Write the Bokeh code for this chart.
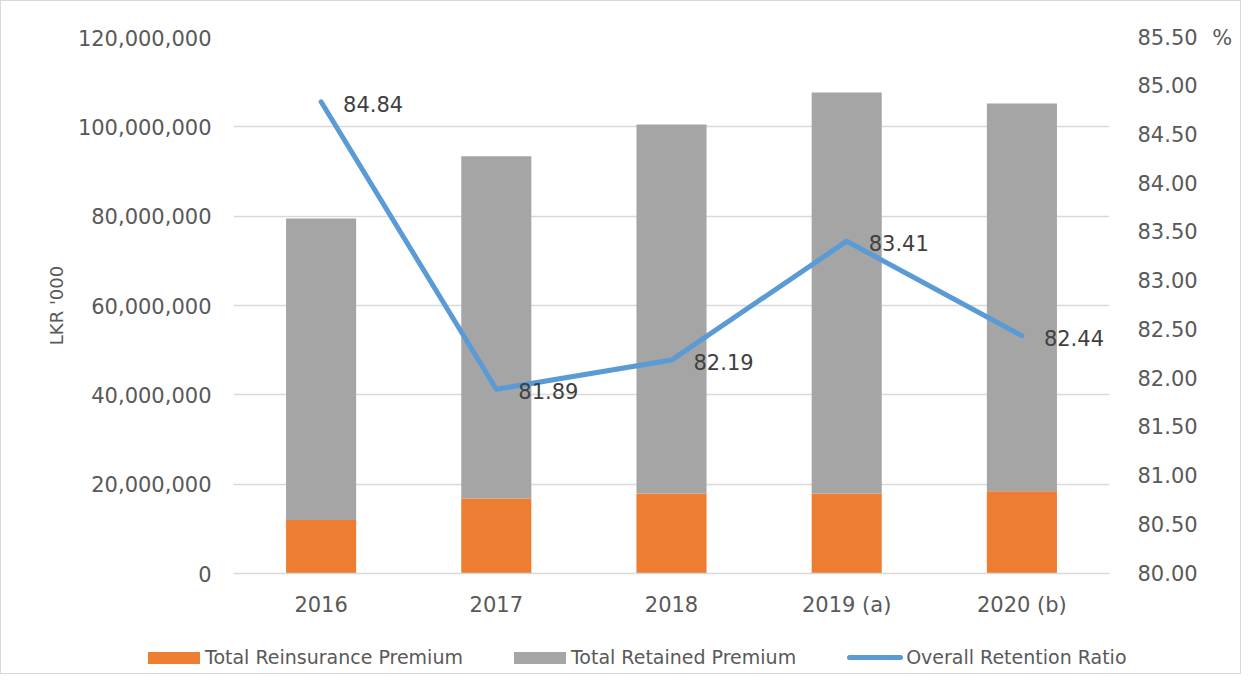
from bokeh.plotting import figure
from bokeh.layouts import column
from bokeh.models import (ColumnDataSource, Range1d, LinearAxis, FixedTicker,
                          NumeralTickFormatter, FactorRange, CustomJSTickFormatter, Div)
from bokeh.core.properties import value
from bokeh.embed import file_html
from bokeh.resources import INLINE

years = ["2016", "2017", "2018", "2019 (a)", "2020 (b)"]
reinsurance = [12000000, 16800000, 17900000, 17900000, 18400000]
retained = [67500000, 76600000, 82600000, 89800000, 86800000]
ratio = [84.84, 81.89, 82.19, 83.41, 82.44]
ratio_labels = ["84.84", "81.89", "82.19", "83.41", "82.44"]

left_ticks = [0, 20000000, 40000000, 60000000, 80000000, 100000000, 120000000]
right_ticks = [80.0, 80.5, 81.0, 81.5, 82.0, 82.5, 83.0, 83.5, 84.0, 84.5, 85.0, 85.5]
series_names = ["Total Reinsurance Premium", "Total Retained Premium", "Overall Retention Ratio"]

FONT = "DejaVu Sans"
ORANGE = "#ED7D31"
GRAY = "#A5A5A5"
BLUE = "#5B9BD5"
TICK_COLOR = "#595959"
W = 1239

src = ColumnDataSource(dict(year=years, reins=reinsurance, ret=retained,
                            ratio=ratio, lab=ratio_labels))

p = figure(x_range=FactorRange(factors=years, range_padding=0),
           y_range=Range1d(0, 120000000),
           width=W, height=638, output_backend="svg", toolbar_location=None,
           min_border_left=232, min_border_right=131, min_border_top=36, min_border_bottom=66)
p.outline_line_color = None
p.background_fill_color = "white"
p.border_fill_color = "white"
p.margin = (0, 0, 0, 0)

p.extra_y_ranges = {"ratio": Range1d(80.0, 85.5)}

stack = p.vbar_stack(["reins", "ret"], x="year", width=0.4, color=[ORANGE, GRAY],
                     line_color=None, source=src)
line = p.line("year", "ratio", source=src, y_range_name="ratio", line_color=BLUE,
              line_width=5, line_join="round", line_cap="round")
p.text("year", "ratio", text="lab", source=src, y_range_name="ratio",
       x_offset=22, y_offset=2, text_baseline="middle", text_align="left",
       text_font=value(FONT), text_font_size="21px", text_color="#404040")

# left axis
ax = p.yaxis[0]
ax.ticker = FixedTicker(ticks=left_ticks)
ax.formatter = NumeralTickFormatter(format="0,0")
ax.axis_label = "LKR '000"
ax.axis_label_text_font = FONT
ax.axis_label_text_font_size = "18px"
ax.axis_label_text_font_style = "normal"
ax.axis_label_text_color = TICK_COLOR
ax.axis_label_standoff = 8
ax.major_label_text_font = FONT
ax.major_label_text_font_size = "21px"
ax.major_label_text_color = TICK_COLOR
ax.major_label_standoff = 16
ax.axis_line_color = None
ax.major_tick_line_color = None
ax.minor_tick_line_color = None

# right axis ("%" unit shown next to the top tick)
rax = LinearAxis(y_range_name="ratio", ticker=FixedTicker(ticks=right_ticks),
                 formatter=CustomJSTickFormatter(
                     code="return tick.toFixed(2) + (tick > 85.4 ? '\u2002\u2009%' : '');"))
rax.major_label_text_font = FONT
rax.major_label_text_font_size = "21px"
rax.major_label_text_color = TICK_COLOR
rax.major_label_standoff = 22
rax.axis_line_color = None
rax.major_tick_line_color = None
rax.minor_tick_line_color = None
p.add_layout(rax, "right")

# x axis
xa = p.xaxis[0]
xa.major_label_text_font = FONT
xa.major_label_text_font_size = "21px"
xa.major_label_text_color = TICK_COLOR
xa.major_label_standoff = 13
xa.axis_line_color = "#D9D9D9"
xa.axis_line_width = 1.5
xa.major_tick_line_color = None
xa.minor_tick_line_color = None

p.xgrid.grid_line_color = None
p.ygrid.grid_line_color = "#D9D9D9"
p.ygrid.grid_line_width = 1.5

# legend strip below the chart (HTML)
def swatch(color, kind):
    if kind == "bar":
        return (f'<span style="display:inline-block;width:52px;height:12px;'
                f'background:{color};margin-right:5px"></span>')
    return (f'<span style="display:inline-block;width:56px;height:5px;border-radius:3px;'
            f'background:{color};margin-right:3px"></span>')

kinds = ["bar", "bar", "line"]
colors = [ORANGE, GRAY, BLUE]
items_html = "".join(
    f'<span style="display:inline-flex;align-items:center;margin-right:51px">'
    f'{swatch(c, k)}<span>{name}</span></span>'
    for name, c, k in zip(series_names, colors, kinds))
legend_div = Div(
    text=(f'<div style="display:flex;align-items:center;height:34px;padding-left:147px;'
          f'padding-top:4px;box-sizing:border-box;'
          f'font-family:\'{FONT}\';font-size:19px;color:{TICK_COLOR};white-space:nowrap">'
          f'{items_html}</div>'),
    width=W, height=34, margin=(0, 0, 0, 0))

layout = column(p, legend_div, spacing=0)
layout.styles = {"border": "1px solid #d9d9d9"}

open("out.html", "w").write(file_html(layout, INLINE))
